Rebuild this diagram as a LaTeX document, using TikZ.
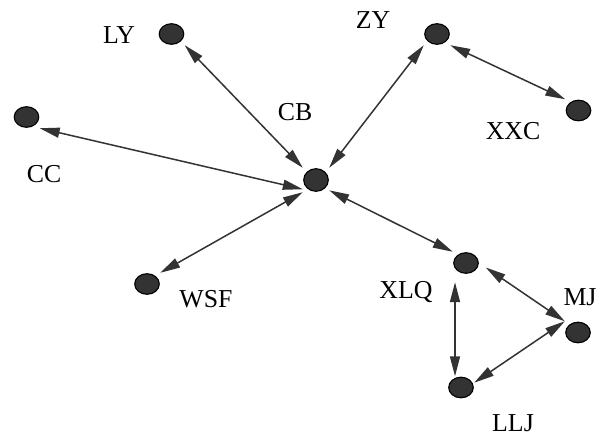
\documentclass[tikz,border=0pt]{standalone}
\usepackage{fontspec}
\setmainfont{Liberation Serif}
\usetikzlibrary{arrows.meta}
\definecolor{dotfill}{HTML}{333333}
\definecolor{edgecol}{HTML}{333333}
\tikzset{
  dot/.style={rectangle, inner sep=0pt, minimum width=26pt, minimum height=22pt,
    path picture={\fill[dotfill, draw=black, line width=1.1pt]
      (path picture bounding box.center) ellipse[x radius=12.3pt, y radius=10.3pt];}},
  bigdot/.style={dot, minimum height=24pt,
    path picture={\fill[dotfill, draw=black, line width=1.1pt]
      (path picture bounding box.center) ellipse[x radius=12.3pt, y radius=11.3pt];}},
  lab/.style={font=\fontsize{25.8}{27}\selectfont, inner sep=0pt},
  link/.style={draw=edgecol, line width=1.5pt,
    {Triangle[length=20pt,width=10pt]}-{Triangle[length=20pt,width=10pt]}}
}
\begin{document}
\begin{tikzpicture}[x=1pt,y=-1pt]
\useasboundingbox[fill=white] (0,0) rectangle (603,437);
% nodes
\node[dot] (ly) at (171.5,34) {};
\node[dot] (cc) at (26.5,117) {};
\node[bigdot] (cb) at (316,180) {};
\node[dot] (zy) at (437,34) {};
\node[dot] (xxc) at (578.5,110.5) {};
\node[dot] (wsf) at (147,284) {};
\node[dot] (xlq) at (466,263) {};
\node[dot] (mj) at (578,332.5) {};
\node[dot] (llj) at (461,387.5) {};
% labels
\node[lab] (lyl) at (119,35) {LY};
\node[lab] (ccl) at (44,174) {CC};
\node[lab] (cbl) at (295,112) {CB};
\node[lab] (zyl) at (373,20) {ZY};
\node[lab] (xxcl) at (513,131) {XXC};
\node[lab] (wsfl) at (206,299) {WSF};
\node[lab] (xlql) at (406,292) {XLQ};
\node[lab] (mjl) at (580,297) {MJ};
\node[lab] (lljl) at (513,423) {LLJ};
% edges
\draw[link] (cb.north west) -- (ly.south east);
\draw[link] (cb.north east) -- (zy.south west);
\draw[link] (cb.215) -- (cc.south east);
\draw[link] (cb.south west) -- (wsf.north east);
\draw[link] (cb.-38) -- (xlq.north west);
\draw[link] (zy.south east) -- (xxc.north west);
\draw[link, shorten <=8pt] (xlq.east) -- (mj.north west);
\draw[link, shorten <=8pt] ([xshift=-11pt]xlq.south) -- ([xshift=-11pt]xlq.south |- llj.north);
\draw[link] (llj.20) -- (mj.north west);
\end{tikzpicture}
\end{document}
